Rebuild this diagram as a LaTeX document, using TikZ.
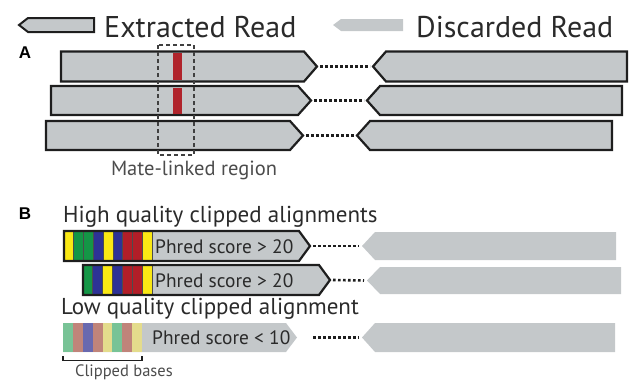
\documentclass[tikz,border=0pt]{standalone}
\usepackage{fontspec}
\setmainfont{PT Sans}
\newfontfamily\tagfont{Liberation Sans}
\usetikzlibrary{positioning}

\definecolor{readgray}{RGB}{196,200,202}
\definecolor{edgegray}{RGB}{30,30,30}
\definecolor{textgray}{RGB}{42,42,42}
\definecolor{linkred}{RGB}{176,36,44}
\definecolor{baseY}{RGB}{250,232,20}
\definecolor{baseG}{RGB}{20,150,70}
\definecolor{baseB}{RGB}{45,50,150}
\definecolor{baseR}{RGB}{178,30,40}
\definecolor{fadeY}{RGB}{228,220,140}
\definecolor{fadeG}{RGB}{120,195,150}
\definecolor{fadeB}{RGB}{105,105,175}
\definecolor{fadeR}{RGB}{192,132,122}

% read pointing right: [style]{name}{x left}{y top}{x tip}{y bottom}
\def\tipdepth{13}
\newcommand{\readR}[6][extracted]{%
  \draw[#1] (#3,#4) -- ({#5-\tipdepth},#4) -- (#5,{(#4+#6)/2}) -- ({#5-\tipdepth},#6) -- (#3,#6) -- cycle;
  \coordinate (#2) at (#5,{(#4+#6)/2});}
% read pointing left: [style]{name}{x tip}{y top}{x right}{y bottom}
\newcommand{\readL}[6][discarded]{%
  \draw[#1] (#5,#4) -- ({#3+\tipdepth},#4) -- (#3,{(#4+#6)/2}) -- ({#3+\tipdepth},#6) -- (#5,#6) -- cycle;
  \coordinate (#2) at (#3,{(#4+#6)/2});}

\tikzset{
  readfill/.style={fill=readgray, draw=none},
  readedge/.style={draw=edgegray, line width=2.2pt, line join=miter},
  extracted/.style={readfill, readedge},
  discarded/.style={fill=readgray, draw=none},
  matelink/.style={draw=edgegray, line width=2.6pt, dash pattern=on 2.6pt off 2.4pt},
  basebar/.style={draw=black!70, line width=0.8pt},
  fadebar/.style={draw=none},
  regionbox/.style={draw=black!75, line width=1.2pt, dash pattern=on 4pt off 3pt},
  legendtext/.style={font=\fontsize{30}{32}\selectfont, text=textgray, anchor=base west, inner sep=0pt},
  headtext/.style={font=\fontsize{23}{25}\selectfont, text=textgray, anchor=base west, inner sep=0pt},
  phredtext/.style={font=\fontsize{19.4}{21}\selectfont, text=textgray, anchor=base west, inner sep=0pt},
  notetext/.style={font=\fontsize{20.5}{22}\selectfont, text=black!70, anchor=base, inner sep=0pt},
  paneltag/.style={font=\tagfont\bfseries\fontsize{17}{19}\selectfont, inner sep=0pt}
}

\begin{document}
\begin{tikzpicture}[x=1pt,y=-1pt]
  \useasboundingbox (0,0) rectangle (632,380);

  % Legend
  \begin{scope}
    \def\tipdepth{9}
    \readL[extracted, line width=2pt]{keyext}{19}{18}{94}{32}
    \def\tipdepth{8}
    \readL[discarded]{keydis}{333}{19}{403}{31}
  \end{scope}
  \node[legendtext] (extlabel) at (104,37) {Extracted Read};
  \node[legendtext] (dislabel) at (416,37) {Discarded Read};

  % A: mate-linked reads
  \node[paneltag] (tagA) at (25,53) {A};
  \readR{a1}{61}{51.5}{317}{81.5}
  \readR{a2}{51}{86}{311}{115}
  \readR{a3}{46}{121}{303}{150}
  \readL[extracted]{c1}{373}{51.5}{627}{81.5}
  \readL[extracted]{c2}{367}{86}{622}{115}
  \readL[extracted]{c3}{357}{121}{612}{150}
  \fill[linkred] (173,53) rectangle (182,80);
  \fill[linkred] (173,87.5) rectangle (182,113.5);
  \draw[matelink] ([xshift=3pt]a1) -- ([xshift=-3pt]c1);
  \draw[matelink] ([xshift=3pt]a2) -- ([xshift=-3pt]c2);
  \draw[matelink] ([xshift=3pt]a3) -- ([xshift=-3pt]c3);
  \draw[regionbox] (158,45) rectangle (194,155);
  \node[notetext] (matelabel) at (194,175) {Mate-linked region};

  % B: clipped alignments
  \node[paneltag] (tagB) at (25,214) {B};
  \node[headtext] (highlabel) at (63,222) {High quality clipped alignments};
  \def\tipdepth{11}
  \readR[readfill]{b1}{64}{231}{310}{261}
  \foreach \c [count=\i from 0] in {baseY,baseG,baseG,baseB,baseY,baseB,baseR,baseR,baseY}
    \filldraw[basebar, fill=\c] ({64+\i*9.8},231) rectangle +(9.8,30);
  \readR[readedge]{b1}{64}{231}{310}{261}
  \node[phredtext] (phred1) at (155,253) {Phred score > 20};

  \readR[readfill]{b2}{83}{265}{330}{295}
  \foreach \c [count=\i from 0] in {baseG,baseB,baseY,baseB,baseR,baseR,baseY}
    \filldraw[basebar, fill=\c] ({83+\i*9.86},265) rectangle +(9.86,30);
  \readR[readedge]{b2}{83}{265}{330}{295}
  \node[phredtext] (phred2) at (155,287) {Phred score > 20};

  \node[headtext] (lowlabel) at (61,314) {Low quality clipped alignment};
  \readR[discarded]{b3}{63}{323}{297}{352}
  \foreach \c [count=\i from 0] in {fadeG,fadeR,fadeB,fadeR,fadeY,fadeG,fadeR,fadeY}
    \fill[fadebar, fill=\c] ({63+\i*9.875},323) rectangle +(9.875,29);
  \node[phredtext] (phred3) at (152,344) {Phred score < 10};

  \def\tipdepth{13}
  \readL{d1}{362}{232}{616}{260}
  \readL{d2}{367}{267}{621}{294}
  \readL{d3}{362}{323}{615}{352}
  \draw[matelink] ([xshift=3pt]b1) -- ([xshift=-3pt]d1);
  \draw[matelink] ([xshift=3pt]b2) -- ([xshift=-3pt]d2);
  \draw[matelink] ([xshift=16pt]b3) -- ([xshift=-3pt]d3);

  % clipped bases bracket
  \draw[edgegray, line width=1.3pt] (63,356) -- (63,360.5) -- (142,360.5) -- (142,356);
  \node[notetext, font=\fontsize{16.5}{18}\selectfont] (cliplabel) at (124,376) {Clipped bases};
\end{tikzpicture}
\end{document}
